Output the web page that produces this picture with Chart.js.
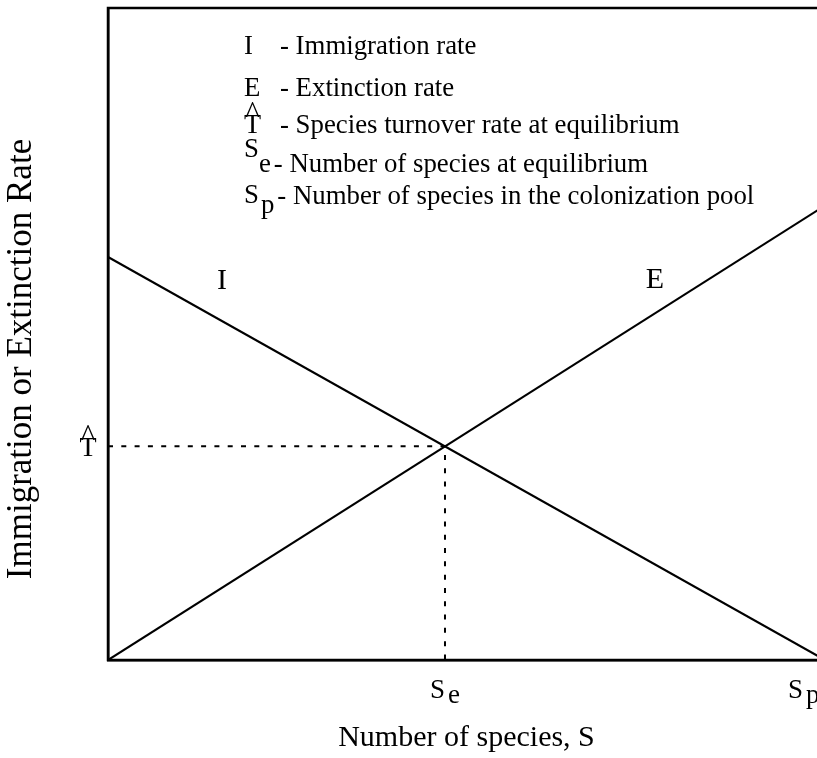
<!DOCTYPE html>
<html>
<head>
<meta charset="utf-8">
<script src="https://cdn.jsdelivr.net/npm/chart.js@4.4.0/dist/chart.umd.min.js"></script>
<style>
html, body { margin: 0; padding: 0; background: #fff; overflow: hidden; }
#wrap { width: 850px; height: 758px; }
</style>
</head>
<body>
<div id="wrap"><canvas id="islandChart"></canvas></div>
<script>
// island biogeography: immigration and extinction vs number of species
var speciesS = [0, 100];            // 0 .. Sp
var immigration = [61.8, 0];
var extinction = [0, 69.7];
var equilS = 47;                    // Se
var turnover = 32.8;                // T hat

var xTickValues = [equilS, 100];
var xTickLabels = ['S', 'S'];
var xTickSubs = ['e', 'p'];
var yTickValues = [turnover];
var yTickLabels = ['T\u0302'];

var curveNames = ['I', 'E'];

var legendSymbols = ['I', 'E', 'T\u0302', 'S', 'S'];
var legendSubs = ['', '', '', 'e', 'p'];
var legendTexts = [
  '- Immigration rate',
  '- Extinction rate',
  '- Species turnover rate at equilibrium',
  '- Number of species at equilibrium',
  '- Number of species in the colonization pool'
];

var yTitle = 'Immigration or Extinction Rate';

var serif = "'Liberation Serif', 'Times New Roman', serif";

// draws a symbol, handles a combining circumflex as a caret above the letter
function drawSymbol(ctx, txt, x, y, size) {
  var hat = txt.indexOf('\u0302') >= 0;
  var base = txt.replace('\u0302', '');
  ctx.font = size + 'px ' + serif;
  ctx.textAlign = 'left';
  ctx.fillText(base, x, y);
  var w = ctx.measureText(base).width;
  if (hat) {
    ctx.font = Math.round(size * 1.1) + 'px ' + serif;
    ctx.textAlign = 'center';
    ctx.fillText('^', x + w / 2, y - size * 0.36);
    ctx.textAlign = 'left';
  }
  return w;
}

var annotate = {
  id: 'annotate',
  afterDraw: function (chart) {
    var ctx = chart.ctx;
    var a = chart.chartArea;
    var xs = chart.scales.x, ys = chart.scales.y;
    ctx.save();
    ctx.fillStyle = '#000';
    ctx.strokeStyle = '#000';
    ctx.textBaseline = 'alphabetic';

    // frame
    ctx.lineWidth = 2.5;
    ctx.strokeRect(a.left, a.top, a.right - a.left, a.bottom - a.top);

    // y axis title, sits a little below the middle of the axis
    ctx.save();
    ctx.translate(22, (a.top + a.bottom) / 2 + 25);
    ctx.rotate(-Math.PI / 2);
    ctx.font = '35px ' + serif;
    ctx.textAlign = 'center';
    ctx.textBaseline = 'middle';
    ctx.fillText(yTitle, 0, 0);
    ctx.restore();

    // x tick labels with subscripts
    var visW = window.innerWidth;
    for (var i = 0; i < xTickValues.length; i++) {
      var px = Math.min(xs.getPixelForValue(xTickValues[i]), visW - 14);
      ctx.font = '27px ' + serif;
      ctx.textAlign = 'right';
      ctx.fillText(xTickLabels[i], px, a.bottom + 38);
      ctx.textAlign = 'left';
      ctx.fillText(xTickSubs[i], px + 3, a.bottom + 43);
    }

    // y tick label
    for (var j = 0; j < yTickValues.length; j++) {
      var py = ys.getPixelForValue(yTickValues[j]);
      ctx.font = '28px ' + serif;
      var tw = ctx.measureText(yTickLabels[j].replace('\u0302', '')).width;
      drawSymbol(ctx, yTickLabels[j], 88 - tw / 2, py + 10, 28);
    }

    // curve names
    ctx.font = '30px ' + serif;
    ctx.textAlign = 'left';
    ctx.fillText(curveNames[0], xs.getPixelForValue(15.2), ys.getPixelForValue(56.9));
    ctx.fillText(curveNames[1], xs.getPixelForValue(75), ys.getPixelForValue(57.1));

    // key
    var rowY = [54, 96, 133, 172, 204];
    var symDy = [0, 0, 0, -15, -1];
    var subDy = [0, 0, 0, 0, 9];
    var symSize = [26.8, 26.8, 28, 26.8, 26.8];
    var symX = 244;
    for (var k = 0; k < legendTexts.length; k++) {
      var y = rowY[k];
      var w = drawSymbol(ctx, legendSymbols[k], symX, y + symDy[k], symSize[k]);
      var tx = 280;
      if (legendSubs[k]) {
        ctx.font = '26.8px ' + serif;
        var sx = symX + w + (k === 4 ? 2 : 0);
        ctx.fillText(legendSubs[k], sx, y + subDy[k]);
        tx = sx + ctx.measureText(legendSubs[k]).width + 3;
      }
      ctx.font = '26.8px ' + serif;
      ctx.textAlign = 'left';
      ctx.fillText(legendTexts[k], tx, y);
    }
    ctx.restore();
  }
};

var ctxL = document.getElementById('islandChart').getContext('2d');
var islandChart = new Chart(ctxL, {
  type: 'line',
  data: {
    datasets: [{
      label: 'I',
      data: speciesS.map(function (s, i) { return { x: s, y: immigration[i] }; }),
      borderColor: '#000',
      borderWidth: 2.2,
      pointRadius: 0,
      fill: false
    }, {
      label: 'E',
      data: speciesS.map(function (s, i) { return { x: s, y: extinction[i] }; }),
      borderColor: '#000',
      borderWidth: 2.2,
      pointRadius: 0,
      fill: false
    }, {
      label: 'equilibrium',
      data: [{ x: speciesS[0], y: turnover }, { x: equilS, y: turnover }, { x: equilS, y: 0 }],
      borderColor: '#000',
      borderWidth: 2,
      borderDash: [5, 8.3],
      pointRadius: 0,
      fill: false
    }]
  },
  options: {
    responsive: true,
    maintainAspectRatio: false,
    animation: false,
    layout: { padding: { top: 8, right: 25, left: 0, bottom: 0 } },
    plugins: { legend: { display: false }, tooltip: { enabled: false } },
    scales: {
      x: {
        type: 'linear',
        min: 0,
        max: 100,
        grid: { display: false },
        border: { color: '#000', width: 2.5 },
        ticks: { display: false },
        afterBuildTicks: function (s) { s.ticks = xTickValues.map(function (v) { return { value: v }; }); },
        afterFit: function (s) { s.height = 98; },
        title: {
          display: true,
          text: 'Number of species, S',
          color: '#000',
          font: { family: serif, size: 30 },
          padding: { top: 0, bottom: 2 }
        }
      },
      y: {
        type: 'linear',
        min: 0,
        max: 100,
        grid: { display: false },
        border: { color: '#000', width: 2.5 },
        ticks: { display: false },
        afterBuildTicks: function (s) { s.ticks = yTickValues.map(function (v) { return { value: v }; }); },
        afterFit: function (s) { s.width = 108; }
      }
    }
  },
  plugins: [annotate]
});
</script>
</body>
</html>
